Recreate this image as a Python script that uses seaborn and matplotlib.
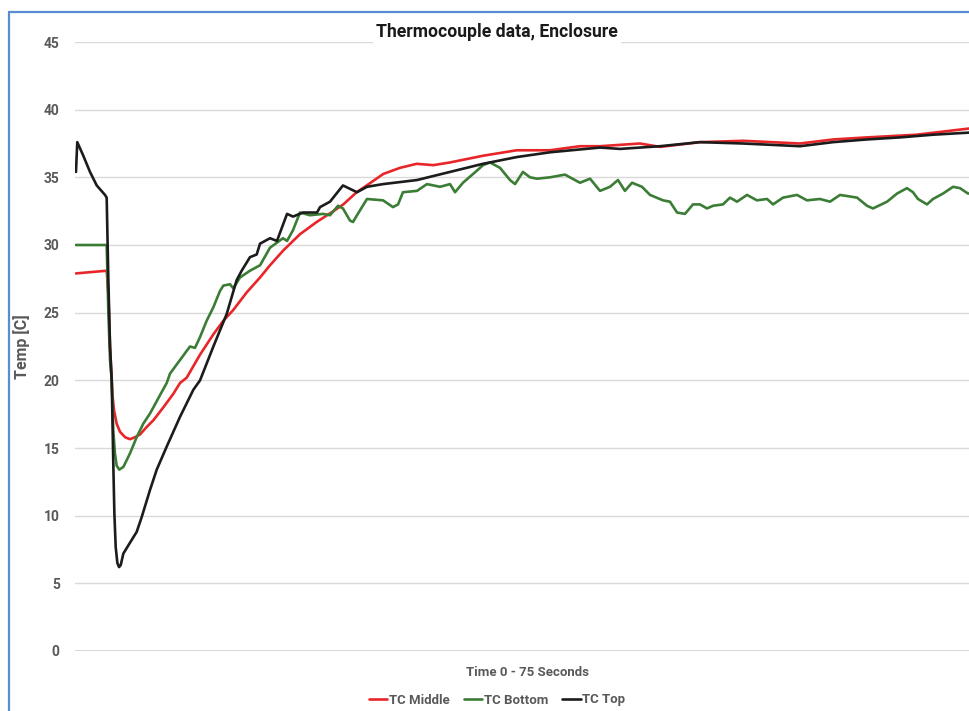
import pandas as pd
import matplotlib.pyplot as plt
import seaborn as sns
from matplotlib.patches import Rectangle

# readings (time in seconds, temperature in C)
top_time = [0.08, 0.19, 0.69, 1.25, 1.81, 2.50, 2.64, 2.78, 2.92, 3.06, 3.19, 3.28, 3.39,
            3.53, 3.67, 3.81, 4.03, 4.58, 5.14, 5.56, 6.25, 6.81, 7.64, 8.75, 9.86, 10.42,
            11.53, 12.64, 13.47, 13.89, 14.58, 15.14, 15.42, 16.25, 16.83, 17.67, 18.17,
            19.00, 20.17, 20.42, 21.25, 22.33, 23.50, 24.33, 25.67, 28.50, 31.25, 34.00,
            36.83, 39.58, 43.75, 45.42, 48.75, 52.08, 55.67, 60.42, 63.17, 66.00, 68.75,
            71.50, 74.42, 75.0]
top_temp = [35.4, 37.6, 36.6, 35.4, 34.4, 33.7, 33.5, 27.4, 22.5, 20.0, 13.9, 10.2, 7.7,
            6.5, 6.2, 6.35, 7.2, 8.0, 8.8, 9.9, 11.9, 13.4, 15.1, 17.3, 19.3, 20.0,
            22.5, 24.9, 27.4, 28.1, 29.1, 29.3, 30.1, 30.5, 30.3, 32.3, 32.1,
            32.4, 32.4, 32.8, 33.2, 34.4, 33.9, 34.3, 34.5, 34.8, 35.4, 36.0,
            36.5, 36.85, 37.2, 37.1, 37.3, 37.6, 37.5, 37.3, 37.6, 37.8, 37.95,
            38.15, 38.3, 38.35]

mid_time = [0.08, 2.64, 2.78, 2.92, 3.06, 3.11, 3.25, 3.47, 3.75, 4.17, 4.58, 5.00, 5.42,
            5.97, 6.53, 7.36, 8.19, 8.75, 9.31, 10.42, 11.53, 12.36, 13.19, 14.31, 15.42,
            16.25, 17.36, 18.75, 20.14, 21.53, 22.36, 23.47, 24.31, 25.69, 27.08, 28.47,
            29.86, 31.25, 34.03, 36.81, 39.58, 42.08, 43.75, 47.08, 48.75, 52.08, 55.69,
            60.42, 63.19, 65.97, 70.14, 74.44, 75.0]
mid_temp = [27.9, 28.1, 26.4, 22.5, 20.0, 19.0, 17.8, 16.8, 16.2, 15.8, 15.65, 15.8, 16.0,
            16.55, 17.05, 18.0, 19.0, 19.8, 20.2, 21.9, 23.4, 24.4, 25.2, 26.5, 27.6,
            28.5, 29.6, 30.8, 31.7, 32.5, 33.0, 33.9, 34.4, 35.25, 35.7, 36.0,
            35.9, 36.1, 36.6, 37.0, 37.0, 37.3, 37.3, 37.5, 37.25, 37.6, 37.7,
            37.5, 37.8, 37.95, 38.15, 38.6, 38.65]

bot_time = [0.08, 2.64, 2.78, 2.92, 3.06, 3.19, 3.33, 3.47, 3.69, 4.03, 4.58, 5.14, 5.69,
            6.25, 6.53, 7.08, 7.64, 7.92, 8.75, 9.58, 10.0, 10.42, 10.97, 11.53, 12.08,
            12.36, 12.92, 13.19, 13.75, 14.58, 15.42, 16.25, 17.33, 17.67, 18.17, 18.75,
            19.58, 20.67, 21.25, 21.92, 22.33, 22.92, 23.17, 23.50, 24.33, 25.67, 26.50,
            26.92, 27.33, 28.50, 29.33, 30.42, 31.25, 31.67, 32.33, 33.50, 34.00, 34.58,
            35.42, 36.25, 36.67, 37.33, 37.92, 38.50, 39.58, 40.83, 42.08, 42.92, 43.75,
            44.58, 45.25, 45.83, 46.42, 47.25, 47.92, 49.00, 49.58, 50.17, 50.83, 51.50,
            52.08, 52.67, 53.17, 54.00, 54.58, 55.17, 56.00, 56.83, 57.67, 58.17, 59.00,
            60.17, 61.00, 62.08, 62.92, 63.75, 65.17, 66.00, 66.50, 67.67, 68.50, 69.33,
            69.83, 70.25, 71.00, 71.50, 72.33, 73.17, 73.75, 74.42, 75.0]
bot_temp = [30.0, 30.0, 25.0, 21.5, 20.0, 16.3, 14.6, 13.7, 13.4, 13.6, 14.6, 15.8, 16.8,
            17.55, 18.0, 18.9, 19.8, 20.5, 21.5, 22.5, 22.4, 23.2, 24.4, 25.4, 26.6,
            27.0, 27.1, 26.8, 27.6, 28.1, 28.5, 29.8, 30.5, 30.3, 31.1, 32.4,
            32.2, 32.3, 32.2, 32.9, 32.7, 31.8, 31.7, 32.2, 33.4, 33.3, 32.8,
            33.0, 33.9, 34.0, 34.5, 34.3, 34.5, 33.9, 34.6, 35.5, 35.9, 36.1,
            35.7, 34.8, 34.5, 35.4, 35.0, 34.9, 35.0, 35.2, 34.6, 34.9, 34.0,
            34.3, 34.8, 34.0, 34.6, 34.3, 33.7, 33.3, 33.2, 32.4, 32.3, 33.0,
            33.0, 32.7, 32.9, 33.0, 33.5, 33.2, 33.7, 33.3, 33.4, 33.0, 33.5,
            33.7, 33.3, 33.4, 33.2, 33.7, 33.5, 32.9, 32.7, 33.2, 33.8, 34.2,
            33.9, 33.4, 33.0, 33.4, 33.8, 34.3, 34.2, 33.8, 33.9]

series = ['TC Middle', 'TC Bottom', 'TC Top']
colors = {'TC Middle': '#e8262a', 'TC Bottom': '#3b7d35', 'TC Top': '#1c1c1c'}

data = pd.concat([
    pd.DataFrame({'time': mid_time, 'temp': mid_temp, 'sensor': 'TC Middle'}),
    pd.DataFrame({'time': bot_time, 'temp': bot_temp, 'sensor': 'TC Bottom'}),
    pd.DataFrame({'time': top_time, 'temp': top_temp, 'sensor': 'TC Top'}),
])

sns.set_style('white')
plt.rcParams['font.family'] = ['Roboto', 'DejaVu Sans']

fig = plt.figure(figsize=(9.69, 7.11), dpi=100)
ax = fig.add_axes([75 / 969, 60 / 711, 900 / 969, 609 / 711])

sns.lineplot(data=data, x='time', y='temp', hue='sensor', hue_order=series,
             palette=colors, estimator=None, linewidth=1.9, ax=ax)

ax.set_xlim(0, 75)
ax.set_ylim(0, 45)
ax.set_yticks(range(0, 46, 5))
ax.set_xticks([])
ax.grid(axis='y', color='#d9d9d9', linewidth=1)
ax.set_axisbelow(True)
for s in ax.spines.values():
    s.set_visible(False)
ax.axhline(0, color='#cfcfcf', linewidth=1.2, zorder=0)
ax.tick_params(axis='y', length=0, pad=11, labelsize=10, labelcolor='#595959')
for lbl in ax.get_yticklabels():
    lbl.set_fontweight('bold')
ax.set_xlabel('')
ax.set_ylabel('')

handles, labels = ax.get_legend_handles_labels()
ax.get_legend().remove()
fig.legend(handles, labels, loc='center', bbox_to_anchor=(497 / 969, 1 - 700 / 711),
           ncol=3, frameon=False, handlelength=1.4, handletextpad=0.1,
           columnspacing=1.1, prop={'weight': 'bold', 'size': 9.5},
           labelcolor='#595959')

# titles and axis labels placed like the Excel chart
fig.text(497 / 969, 1 - 32 / 711, 'Thermocouple data, Enclosure', ha='center', va='center',
         fontsize=12.7, fontweight='bold', color='#1a1a1a',
         bbox=dict(facecolor='white', edgecolor='none', pad=2))
fig.text(527 / 969, 1 - 673 / 711, 'Time 0 - 75 Seconds', ha='center', va='center',
         fontsize=9.5, fontweight='bold', color='#595959')
fig.text(22 / 969, 1 - 347 / 711, 'Temp [C]', ha='center', va='center', rotation=90,
         fontsize=11.5, fontweight='bold', color='#595959')

# blue chart-area border (right and bottom fall outside the picture)
fig.patches.append(Rectangle((9 / 969, -0.1), 1.2, 1.1 - 12 / 711, transform=fig.transFigure,
                             fill=False, edgecolor='#5b8bd0', linewidth=1.6))

fig.savefig('out.png', dpi=100)
